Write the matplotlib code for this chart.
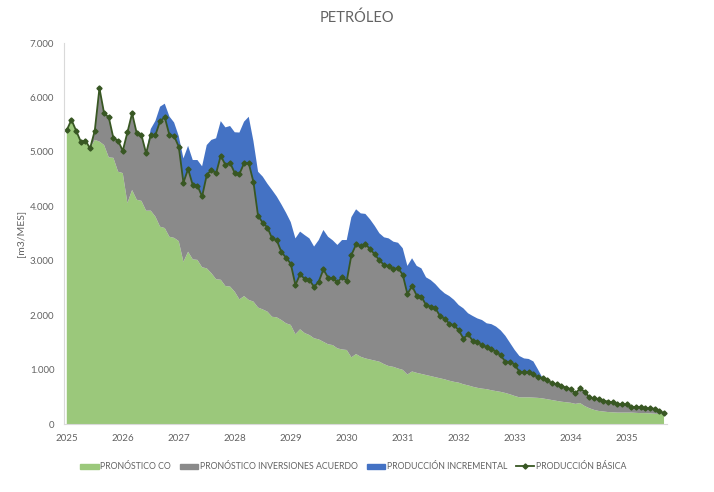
import numpy as np
import matplotlib.pyplot as plt
from matplotlib.patches import Patch
from matplotlib.lines import Line2D

plt.rcParams['font.family'] = ['Lato', 'DejaVu Sans']

# monthly series, Jan 2025 .. Sep 2035, m3/mes
produccion_basica = [
    5400, 5590, 5390, 5190, 5205, 5065, 5390, 6170, 5710, 5635, 5250, 5205,
    5020, 5360, 5710, 5340, 5310, 4975, 5310, 5310, 5565, 5635, 5310, 5290,
    5095, 4435, 4685, 4390, 4380, 4180, 4575, 4670, 4605, 4930, 4760, 4800,
    4610, 4595, 4790, 4790, 4450, 3820, 3700, 3610, 3410, 3375, 3160, 3055,
    2945, 2555, 2750, 2665, 2645, 2520, 2615, 2840, 2690, 2680, 2605, 2700,
    2630, 3105, 3300, 3265, 3305, 3215, 3115, 3010, 2920, 2905, 2850, 2860,
    2745, 2390, 2535, 2360, 2340, 2185, 2155, 2125, 1985, 1930, 1845, 1810,
    1725, 1570, 1645, 1530, 1500, 1450, 1410, 1370, 1330, 1260, 1145, 1140,
    1090, 960, 950, 950, 915, 855, 840, 808, 748, 730, 700, 667,
    643, 563, 655, 595, 490, 470, 460, 430, 410, 400, 367, 360,
    360, 318, 310, 310, 288, 288, 280, 240, 197,
]

pronostico_co = [
    5400, 5590, 5390, 5190, 5205, 5065, 5220, 5190, 5125, 4900, 4890, 4635,
    4610, 4060, 4300, 4120, 4100, 3920, 3920, 3810, 3625, 3600, 3440, 3420,
    3360, 2980, 3165, 3025, 3015, 2880, 2860, 2770, 2660, 2650, 2535, 2525,
    2430, 2290, 2350, 2280, 2250, 2140, 2105, 2065, 1970, 1960, 1910, 1850,
    1820, 1650, 1740, 1670, 1635, 1575, 1555, 1510, 1465, 1450, 1390, 1370,
    1360, 1225, 1285, 1235, 1205, 1185, 1165, 1145, 1100, 1065, 1050, 1020,
    995, 910, 965, 940, 920, 900, 880, 860, 840, 820, 795, 775,
    760, 730, 710, 685, 665, 650, 640, 620, 605, 590, 570, 545,
    515, 490, 490, 490, 485, 480, 470, 455, 440, 425, 410, 400,
    390, 370, 385, 330, 290, 260, 240, 230, 220, 215, 210, 210,
    210, 210, 205, 200, 200, 195, 190, 185, 180,
]

produccion_incremental = [
    0, 0, 0, 0, 0, 0, 0, 0, 0, 0, 0, 0,
    0, 0, 0, 0, 0, 0, 110, 260, 265, 250, 340, 250,
    195, 445, 425, 460, 470, 555, 550, 550, 645, 635, 690, 675,
    750, 760, 765, 855, 750, 815, 845, 805, 890, 805, 875, 825,
    765, 855, 785, 805, 765, 740, 765, 725, 750, 695, 685, 680,
    750, 695, 645, 605, 555, 545, 525, 495, 510, 505, 500, 470,
    485, 515, 510, 545, 520, 510, 490, 445, 490, 470, 505, 470,
    460, 555, 390, 455, 440, 460, 440, 465, 460, 460, 475, 350,
    270, 290, 255, 245, 235, 145, 0, 0, 0, 0, 0, 0,
    0, 0, 0, 0, 0, 0, 0, 0, 0, 0, 0, 0,
    0, 0, 0, 0, 0, 0, 0, 0, 0,
]

years = list(range(2025, 2036))
y_ticks = [0, 1000, 2000, 3000, 4000, 5000, 6000, 7000]

basica = np.array(produccion_basica, dtype=float)
co = np.array(pronostico_co, dtype=float)
inversiones = basica - co  # gray band sits between CO and the basic line
incremental = np.array(produccion_incremental, dtype=float)
t = 2025 + np.arange(len(basica)) / 12.0

c_green = '#9BC87B'
c_gray = '#8A8A8A'
c_blue = '#4472C4'
c_line = '#385723'
c_text = '#636363'

fig = plt.figure(figsize=(7.14, 4.92), dpi=100)
ax = fig.add_axes([0.0896, 0.1382, 0.8442, 0.7744])

ax.stackplot(t, co, inversiones, incremental,
             colors=[c_green, c_gray, c_blue], linewidth=0)
ax.plot(t, basica, color=c_line, lw=1.3, marker='D', ms=2.6,
        mec=c_line, mfc=c_line)

ax.set_xlim(2024.95, 2035.715)
ax.set_ylim(0, 7000)
ax.set_xticks(years)
ax.set_xticklabels([str(y) for y in years], fontsize=7, color=c_text)
ax.set_yticks(y_ticks)
ax.set_yticklabels(['0' if v == 0 else f'{v // 1000}.000' for v in y_ticks],
                   fontsize=7, color=c_text)
ax.tick_params(length=0, pad=7)

for s in ['top', 'right']:
    ax.spines[s].set_visible(False)
for s in ['left', 'bottom']:
    ax.spines[s].set_color('#D9D9D9')
    ax.spines[s].set_linewidth(0.8)

ax.set_ylabel('[m3/MES]', fontsize=7.5, color=c_text, labelpad=3)
fig.text(0.5, 0.963, 'PETRÓLEO', ha='center', va='center',
         fontsize=10.5, color=c_text)

handles = [
    Patch(color=c_green, label='PRONÓSTICO CO'),
    Patch(color=c_gray, label='PRONÓSTICO INVERSIONES ACUERDO'),
    Patch(color=c_blue, label='PRODUCCIÓN INCREMENTAL'),
    Line2D([], [], color=c_line, lw=1.3, marker='D', ms=2.6,
           label='PRODUCCIÓN BÁSICA'),
]
leg = fig.legend(handles=handles, loc='center', bbox_to_anchor=(0.495, 0.051),
                 ncol=4, frameon=False, fontsize=6.3, handlelength=2.1,
                 handleheight=0.6, handletextpad=0.2, columnspacing=1.0)
for txt in leg.get_texts():
    txt.set_color(c_text)

fig.savefig('out.png', dpi=100)
